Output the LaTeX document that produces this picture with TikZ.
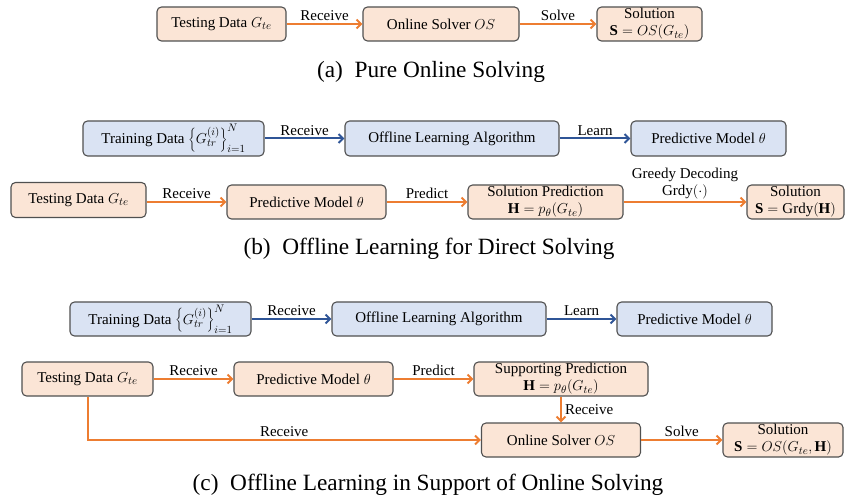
\documentclass[tikz,border=0pt]{standalone}
\usepackage{fontspec}
\setmainfont{Liberation Serif}
\usetikzlibrary{arrows.meta}
\definecolor{orfill}{HTML}{FBE5D6}
\definecolor{blfill}{HTML}{DAE3F3}
\definecolor{boxline}{HTML}{505050}
\definecolor{orline}{HTML}{ED7D31}
\definecolor{blline}{HTML}{2F5597}
\tikzset{
  box/.style={draw=boxline, rounded corners=4.5pt, line width=1.1pt, inner sep=0pt,
    align=center, font=\fontsize{15}{17}\selectfont},
  obox/.style={box, fill=orfill},
  bbox/.style={box, fill=blfill},
  sz/.style 2 args={minimum width=#1pt, minimum height=#2pt},
  oarr/.style={draw=orline, line width=2pt, -{Straight Barb[length=4.5pt,width=9pt,line width=2pt]}},
  barr/.style={draw=blline, line width=2pt, -{Straight Barb[length=4.5pt,width=9pt,line width=2pt]}},
  lab/.style={font=\fontsize{15}{17}\selectfont, text=black, inner sep=1pt, align=center},
  captext/.style={font=\fontsize{23.3}{26}\selectfont, inner sep=0pt}
}
\begin{document}
\begin{tikzpicture}[x=1pt,y=-1pt]
\useasboundingbox (0,0) rectangle (845,502);
% (a)
\node[obox, sz={129}{34}] (ta) at (221.5,24) {Testing Data $G_{te}$};
\node[obox, sz={156}{34}] (osa) at (441,24) {Online Solver $OS$};
\node[obox, sz={105}{34}] (sola) at (649.5,24) {Solution\\$\mathbf{S}=OS(G_{te})$};
\draw[oarr] (ta) -- node[lab, above=1pt] (la1) {Receive} (osa);
\draw[oarr] (osa) -- node[lab, above=1pt] (la2) {Solve} (sola);
\node[captext] (capa) at (431,72) {(a)\hspace{0.5em}Pure Online Solving};
% (b)
\node[bbox, sz={181}{35}] (trb) at (173.5,138.5) {Training Data $\left\{G_{tr}^{(i)}\right\}_{i=1}^{N}$};
\node[bbox, sz={214}{35}] (olb) at (452,138.5) {Offline Learning Algorithm};
\node[bbox, sz={155}{35}] (pmb1) at (708.5,138.5) {Predictive Model $\theta$};
\draw[barr] (trb) -- node[lab, above=1pt] (lb1) {Receive} (olb);
\draw[barr] (olb) -- node[lab, above=1pt] (lb2) {Learn} (pmb1);
\node[obox, sz={135}{35}] (teb) at (78.5,200) {Testing Data $G_{te}$};
\node[obox, sz={159}{34}] (pmb2) at (306.5,202) {Predictive Model $\theta$};
\node[obox, sz={155}{34}] (spb) at (545.5,202) {Solution Prediction\\$\mathbf{H}=p_{\theta}(G_{te})$};
\node[obox, sz={97}{34}] (solb) at (795.5,202) {Solution\\$\mathbf{S}=\mathrm{Grdy}(\mathbf{H})$};
\draw[oarr] (teb.east |- pmb2.west) -- node[lab, above=1pt] (lb3) {Receive} (pmb2.west);
\draw[oarr] (pmb2) -- node[lab, above=1pt] (lb4) {Predict} (spb);
\draw[oarr] (spb) -- node[lab, above=1pt] (lb5) {Greedy Decoding\\$\mathrm{Grdy}(\cdot)$} (solb);
\node[captext] (capb) at (429,249) {(b)\hspace{0.5em}Offline Learning for Direct Solving};
% (c)
\node[bbox, sz={181}{34}] (trc) at (160.5,319) {Training Data $\left\{G_{tr}^{(i)}\right\}_{i=1}^{N}$};
\node[bbox, sz={214}{34}] (olc) at (439,319) {Offline Learning Algorithm};
\node[bbox, sz={155}{34}] (pmc1) at (694.5,319) {Predictive Model $\theta$};
\draw[barr] (trc) -- node[lab, above=1pt] (lc1) {Receive} (olc);
\draw[barr] (olc) -- node[lab, above=1pt] (lc2) {Learn} (pmc1);
\node[obox, sz={131}{34}] (tec) at (87.5,379) {Testing Data $G_{te}$};
\node[obox, sz={159}{34}] (pmc2) at (313.5,379) {Predictive Model $\theta$};
\node[obox, sz={174}{34}] (spc) at (561,379) {Supporting Prediction\\$\mathbf{H}=p_{\theta}(G_{te})$};
\node[obox, sz={159}{34}] (osc) at (561,440) {Online Solver $OS$};
\node[obox, sz={120}{34}] (solc) at (783,440) {Solution\\$\mathbf{S}=OS(G_{te},\mathbf{H})$};
\draw[oarr] (tec) -- node[lab, above=1pt] (lc3) {Receive} (pmc2);
\draw[oarr] (pmc2) -- node[lab, above=1pt] (lc4) {Predict} (spc);
\draw[oarr] (spc) -- node[lab, right=2pt] (lc5) {Receive} (osc);
\draw[oarr] (tec.south) -- (tec.south |- osc.west) -- node[lab, above=1pt] (lc6) {Receive} (osc.west);
\draw[oarr] (osc) -- node[lab, above=1pt] (lc7) {Solve} (solc);
\node[captext] (capc) at (428,485) {(c)\hspace{0.5em}Offline Learning in Support of Online Solving};
\end{tikzpicture}
\end{document}
